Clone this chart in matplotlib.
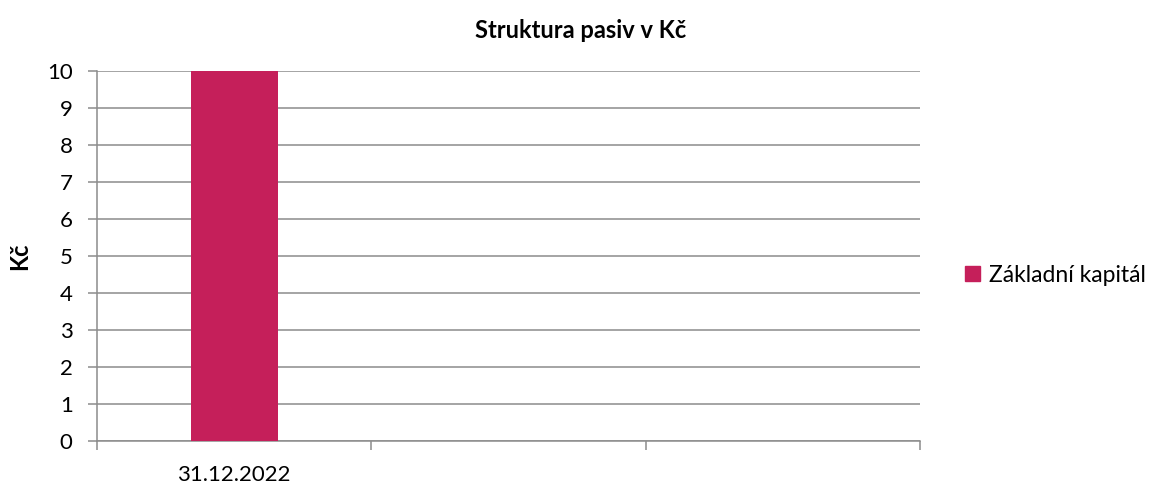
import matplotlib
matplotlib.use("Agg")
import matplotlib.pyplot as plt
from matplotlib.patches import Patch

plt.rcParams["font.family"] = ["Lato", "DejaVu Sans"]

# data
kategorie = ["31.12.2022", "", ""]
zakladni_kapital = [10]
title = "Struktura pasiv v Kč"
ylabel = "Kč"
serie = "Základní kapitál"
yticks = list(range(0, 11))

BAR = "#C51F5A"
GRID = "#8c8c8c"

fig = plt.figure(figsize=(11.62, 4.91), dpi=100)
ax = fig.add_axes([97/1162, 1-441/491, (920-97)/1162, (441-71)/491])

ax.bar([0], zakladni_kapital, width=0.317, color=BAR, zorder=3)

ax.set_xlim(-0.5, len(kategorie)-0.5)
ax.set_ylim(0, 10)
ax.set_yticks(yticks)
ax.set_yticklabels([str(v) for v in yticks], fontsize=16)
ax.yaxis.grid(True, color=GRID, lw=1.1, zorder=0)
ax.tick_params(axis="y", length=6.5, width=1.1, color=GRID, pad=11)

# kategorie: popisky uprostřed, značky na hranicích
ax.set_xticks([0])
ax.set_xticklabels([kategorie[0]], fontsize=16)
ax.tick_params(axis="x", which="major", length=0, pad=17)
ax.set_xticks([i-0.5 for i in range(len(kategorie)+1)], minor=True)
ax.tick_params(axis="x", which="minor", length=6.5, width=1.1, color=GRID)

for s in ["top", "right"]:
    ax.spines[s].set_visible(False)
for s in ["left", "bottom"]:
    ax.spines[s].set_color(GRID)
    ax.spines[s].set_linewidth(1.1)

ax.set_ylabel(ylabel, fontsize=17, fontweight="bold", labelpad=11.5)
fig.text(0.5, 1-30/491, title, ha="center", va="center", fontsize=17, fontweight="bold")

fig.legend(handles=[Patch(color=BAR, label=serie)], loc="center left",
           bbox_to_anchor=(944/1162, 1-275/491), frameon=False, fontsize=16.5,
           handlelength=0.65, handleheight=0.65, handletextpad=0.4)

fig.savefig("out.png", dpi=100)
